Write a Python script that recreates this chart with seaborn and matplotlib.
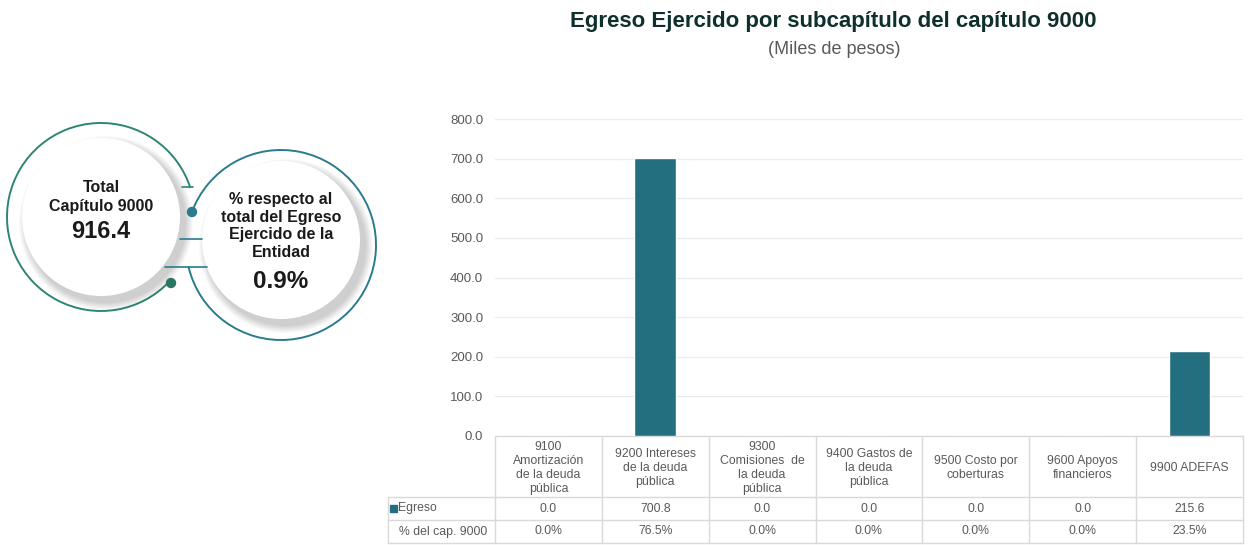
import matplotlib
matplotlib.use("Agg")
import matplotlib.pyplot as plt
import matplotlib.transforms as mtransforms
from matplotlib.patches import Circle, Arc, Rectangle
import seaborn as sns
import pandas as pd

# data
subcapitulos = ["9100\nAmortización\nde la deuda\npública",
                "9200 Intereses\nde la deuda\npública",
                "9300\nComisiones  de\nla deuda\npública",
                "9400 Gastos de\nla deuda\npública",
                "9500 Costo por\ncoberturas",
                "9600 Apoyos\nfinancieros",
                "9900 ADEFAS"]
egreso = [0.0, 700.8, 0.0, 0.0, 0.0, 0.0, 215.6]
pct_cap = [0.0, 76.5, 0.0, 0.0, 0.0, 0.0, 23.5]
total_cap = 916.4
pct_entidad = 0.9

bar_color = "#236F80"
text_gray = "#595959"
line_gray = "#D9D9D9"

sns.set_style("white")
plt.rcParams['font.family'] = ['Liberation Sans', 'DejaVu Sans']

fig = plt.figure(figsize=(12.49, 5.45), dpi=100)

# ---- bar chart ----
ax = fig.add_axes([495 / 1249, 1 - 436 / 545, 748 / 1249, 317 / 545])
df = pd.DataFrame({"sub": subcapitulos, "egreso": egreso})
sns.barplot(data=df, x="sub", y="egreso", color=bar_color, width=0.39,
            saturation=1, ax=ax, zorder=3)
ax.set_xlim(-0.5, len(subcapitulos) - 0.5)
ax.set_ylim(0, 800)
ax.set_yticks(range(0, 801, 100))
ax.set_yticklabels([f"{v:.1f}" for v in range(0, 801, 100)], color=text_gray, fontsize=9.5)
ax.tick_params(axis="y", length=0, pad=8.5)
ax.set_xticks([])
ax.set_xlabel("")
ax.set_ylabel("")
ax.grid(axis="y", color="#EBEBEB", linewidth=0.9, zorder=0)
for s in ax.spines.values():
    s.set_visible(False)

# ---- data table under the chart ----
tr = mtransforms.blended_transform_factory(ax.transData, ax.transAxes)
n = len(subcapitulos)
y_head = -61 / 317
y_r1 = -84 / 317
y_r2 = -107 / 317
lkw = dict(color=line_gray, linewidth=1.0, transform=tr, clip_on=False)
ax.plot([-0.5, n - 0.5], [0, 0], **lkw)
ax.plot([-1.5, n - 0.5], [y_head, y_head], **lkw)
ax.plot([-1.5, n - 0.5], [y_r1, y_r1], **lkw)
ax.plot([-1.5, n - 0.5], [y_r2, y_r2], **lkw)
ax.plot([-1.5, -1.5], [y_head, y_r2], **lkw)
for i in range(n + 1):
    ax.plot([i - 0.5, i - 0.5], [0, y_r2], **lkw)

tkw = dict(transform=tr, ha="center", va="center", color=text_gray,
           fontsize=8.8, clip_on=False, linespacing=1.22)
for i, (lab, v, p) in enumerate(zip(subcapitulos, egreso, pct_cap)):
    ax.text(i, y_head / 2 - 0.004, lab, **tkw)
    ax.text(i, (y_head + y_r1) / 2, f"{v:.1f}", **tkw)
    ax.text(i, (y_r1 + y_r2) / 2, f"{p:.1f}%", **tkw)

ax.add_patch(Rectangle((-1.48, (y_head + y_r1) / 2 - 0.012), 0.06, 0.024,
                       transform=tr, color=bar_color, clip_on=False))
ax.text(-1.405, (y_head + y_r1) / 2, "Egreso", transform=tr, ha="left", va="center",
        color=text_gray, fontsize=8.8, clip_on=False)
ax.text(-0.57, (y_r1 + y_r2) / 2, "% del cap. 9000", transform=tr, ha="right",
        va="center", color=text_gray, fontsize=8.8, clip_on=False)

# ---- titles ----
fig.text(833 / 1249, 1 - 21 / 545, "Egreso Ejercido por subcapítulo del capítulo 9000",
         ha="center", va="center", fontsize=16, fontweight="bold", color="#0F2F2C")
fig.text(834 / 1249, 1 - 49 / 545, "(Miles de pesos)", ha="center", va="center",
         fontsize=13, color=text_gray)

# ---- left KPI circles ----
axc = fig.add_axes([0, 0, 400 / 1249, 1])
axc.set_xlim(0, 400)
axc.set_ylim(545, 0)
axc.set_aspect("equal")
axc.axis("off")

green = "#2E8574"
blue = "#2A7B8E"

# soft shadows (offset to lower right)
for c in [(101, 217), (281, 240)]:
    for k in range(8):
        axc.add_patch(Circle((c[0] + 5, c[1] + 6), 79 + 8 - k,
                             color="#000000", alpha=0.025, lw=0, zorder=2))

# rings
axc.add_patch(Arc((101, 217), 188, 188, theta1=43, theta2=342,
                  color=green, lw=1.4))
axc.add_patch(Arc((281, 245), 190, 190, theta1=-160, theta2=167,
                  color=blue, lw=1.4))
axc.add_patch(Circle((101, 217), 79, color="white", lw=0, zorder=3))
axc.add_patch(Circle((281, 240), 79, color="white", lw=0, zorder=3))

# connector lines and dots
axc.plot([182, 193], [187, 187], color=green, lw=1.2, zorder=4)
axc.plot([180, 202], [239, 239], color=blue, lw=1.2, zorder=4)
axc.plot([165, 207], [267, 267], color=blue, lw=1.2, zorder=4)
axc.add_patch(Circle((171, 283), 4.5, color="#2B7565", zorder=4))
axc.add_patch(Circle((192, 212), 4.5, color="#2A7B8E", zorder=4))

axc.text(101, 197, "Total\nCapítulo 9000", ha="center", va="center", fontsize=11.5,
         fontweight="bold", color="#1A1A1A", zorder=5, linespacing=1.3)
axc.text(101, 232, f"{total_cap:.1f}", ha="center", va="center", fontsize=17,
         fontweight="bold", color="#1A1A1A", zorder=5)
axc.text(281, 226, "% respecto al\ntotal del Egreso\nEjercido de la\nEntidad",
         ha="center", va="center", fontsize=11.5, fontweight="bold",
         color="#1A1A1A", zorder=5, linespacing=1.2)
axc.text(281, 282, f"{pct_entidad:.1f}%", ha="center", va="center", fontsize=17.5,
         fontweight="bold", color="#1A1A1A", zorder=5)

fig.savefig("out.png", dpi=100)
